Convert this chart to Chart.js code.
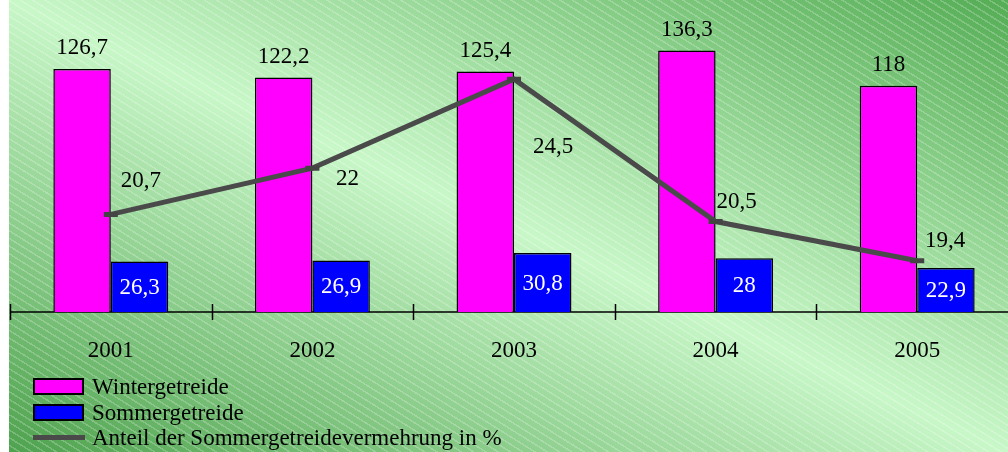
<!DOCTYPE html>
<html>
<head>
<meta charset="utf-8">
<script src="https://cdn.jsdelivr.net/npm/chart.js@4/dist/chart.umd.min.js"></script>
<style>
  html, body { margin: 0; padding: 0; width: 1008px; height: 452px; overflow: hidden; background: #ffffff; }
  #bg {
    position: absolute; left: 9px; top: 0; width: 999px; height: 452px;
    background:
      repeating-linear-gradient(32deg, rgba(255,255,255,0) 0px, rgba(255,255,255,0) 5px, rgba(255,255,255,0.22) 5px, rgba(255,255,255,0.22) 6.5px),
      linear-gradient(to top right, #4ea24e 0%, #c8f7c8 50%, #55ad55 100%);
  }
  #wrap { position: absolute; left: 0; top: 0; width: 1018px; height: 452px; }
  #c { display: block; width: 1018px; height: 452px; }
  #legend { position: absolute; left: 0; top: 0; font-family: "Liberation Serif", serif; font-size: 23px; color: #000; }
  .row { position: absolute; left: 33px; height: 25px; line-height: 25px; white-space: nowrap; }
  .sw { position: absolute; left: 0; box-sizing: border-box; }
  .txt { position: absolute; left: 59px; top: 0; }
</style>
</head>
<body>
<div id="bg"></div>
<div id="wrap"><canvas id="c" width="1018" height="452"></canvas></div>
<div id="legend"></div>
<script>
const categories = ['2001', '2002', '2003', '2004', '2005'];
const winterValues = [126.7, 122.2, 125.4, 136.3, 118];
const summerValues = [26.3, 26.9, 30.8, 28, 22.9];
const shareValues = [20.7, 22, 24.5, 20.5, 19.4];
const seriesNames = ['Wintergetreide', 'Sommergetreide', 'Anteil der Sommergetreidevermehrung in %'];

// label placement (pixel offsets from the line points), layout only
const shareLabelOffsets = [[30, -33], [35, 11], [39, 68], [21, -20], [28, -20]];

const FONT = '"Liberation Serif", serif';
const fmt = v => String(v).replace('.', ',');

const axisPlugin = {
  id: 'axisTicks',
  beforeDatasetsDraw(chart) {
    const { ctx, chartArea, scales } = chart;
    const xs = scales.x;
    const w = xs.getPixelForValue(1) - xs.getPixelForValue(0);
    const y = chartArea.bottom;
    ctx.save();
    ctx.strokeStyle = '#000';
    ctx.lineWidth = 1.5;
    ctx.beginPath();
    ctx.moveTo(chartArea.left, y);
    ctx.lineTo(chartArea.right, y);
    for (let i = 0; i <= categories.length; i++) {
      const x = Math.round(xs.getPixelForValue(0) - w / 2 + i * w) + 0.5;
      ctx.moveTo(x, y - 8);
      ctx.lineTo(x, y + 8);
    }
    ctx.stroke();
    ctx.restore();
  }
};

const labelPlugin = {
  id: 'valueLabels',
  afterDatasetsDraw(chart) {
    const { ctx } = chart;
    ctx.save();
    ctx.font = '23px ' + FONT;
    ctx.textAlign = 'center';
    ctx.textBaseline = 'middle';
    chart.getDatasetMeta(1).data.forEach((bar, i) => {
      ctx.fillStyle = '#000';
      ctx.fillText(fmt(winterValues[i]), bar.x, bar.y - 21);
    });
    chart.getDatasetMeta(2).data.forEach((bar, i) => {
      ctx.fillStyle = '#fff';
      ctx.fillText(fmt(summerValues[i]), bar.x, (bar.y + bar.base) / 2 + 1);
    });
    chart.getDatasetMeta(0).data.forEach((pt, i) => {
      ctx.fillStyle = '#000';
      const o = shareLabelOffsets[i];
      ctx.fillText(fmt(shareValues[i]), pt.x + o[0], pt.y + o[1]);
    });
    ctx.restore();
  }
};

const chart = new Chart(document.getElementById('c'), {
  data: {
    labels: categories,
    datasets: [
      {
        type: 'line', label: seriesNames[2], data: shareValues, yAxisID: 'y2', order: 0,
        borderColor: '#4a4a4a', borderWidth: 5, fill: false, tension: 0,
        pointStyle: 'line', pointRadius: 7, pointBorderWidth: 5, pointBorderColor: '#444',
        pointBackgroundColor: '#444'
      },
      {
        type: 'bar', label: seriesNames[0], data: winterValues, yAxisID: 'y', order: 1,
        backgroundColor: '#ff00ff', borderColor: '#000', borderWidth: 1.5,
        categoryPercentage: 0.57, barPercentage: 1
      },
      {
        type: 'bar', label: seriesNames[1], data: summerValues, yAxisID: 'y', order: 1,
        backgroundColor: '#0000ff', borderColor: '#000', borderWidth: 1.5,
        categoryPercentage: 0.57, barPercentage: 1
      }
    ]
  },
  options: {
    responsive: false,
    maintainAspectRatio: false,
    animation: false,
    devicePixelRatio: 1,
    layout: { autoPadding: false, padding: { left: 10, right: 0, top: 24.3, bottom: 0 } },
    plugins: { legend: { display: false }, tooltip: { enabled: false } },
    scales: {
      x: {
        grid: { display: false, drawTicks: false },
        border: { display: false },
        ticks: { color: '#000', font: { family: FONT, size: 23 }, padding: 25 },
        afterFit: s => { s.height = 140; }
      },
      y: { display: false, min: 0, max: 150 },
      y2: { display: false, position: 'right', min: 17.96, max: 26.04 }
    }
  },
  plugins: [axisPlugin, labelPlugin]
});

const legend = document.getElementById('legend');
const order = [1, 2, 0];
const tops = [374, 400, 425];
order.forEach((di, r) => {
  const ds = chart.data.datasets[di];
  const row = document.createElement('div');
  row.className = 'row';
  row.style.top = tops[r] + 'px';
  const sw = document.createElement('div');
  sw.className = 'sw';
  if (ds.type === 'bar') {
    sw.style.width = '51px'; sw.style.height = '17px'; sw.style.top = '4px';
    sw.style.background = ds.backgroundColor; sw.style.border = '2px solid #000';
  } else {
    sw.style.width = '52px'; sw.style.height = '5px'; sw.style.top = '10px';
    sw.style.background = ds.borderColor;
  }
  const t = document.createElement('span');
  t.className = 'txt';
  t.textContent = ds.label;
  row.appendChild(sw); row.appendChild(t);
  legend.appendChild(row);
});
</script>
</body>
</html>
